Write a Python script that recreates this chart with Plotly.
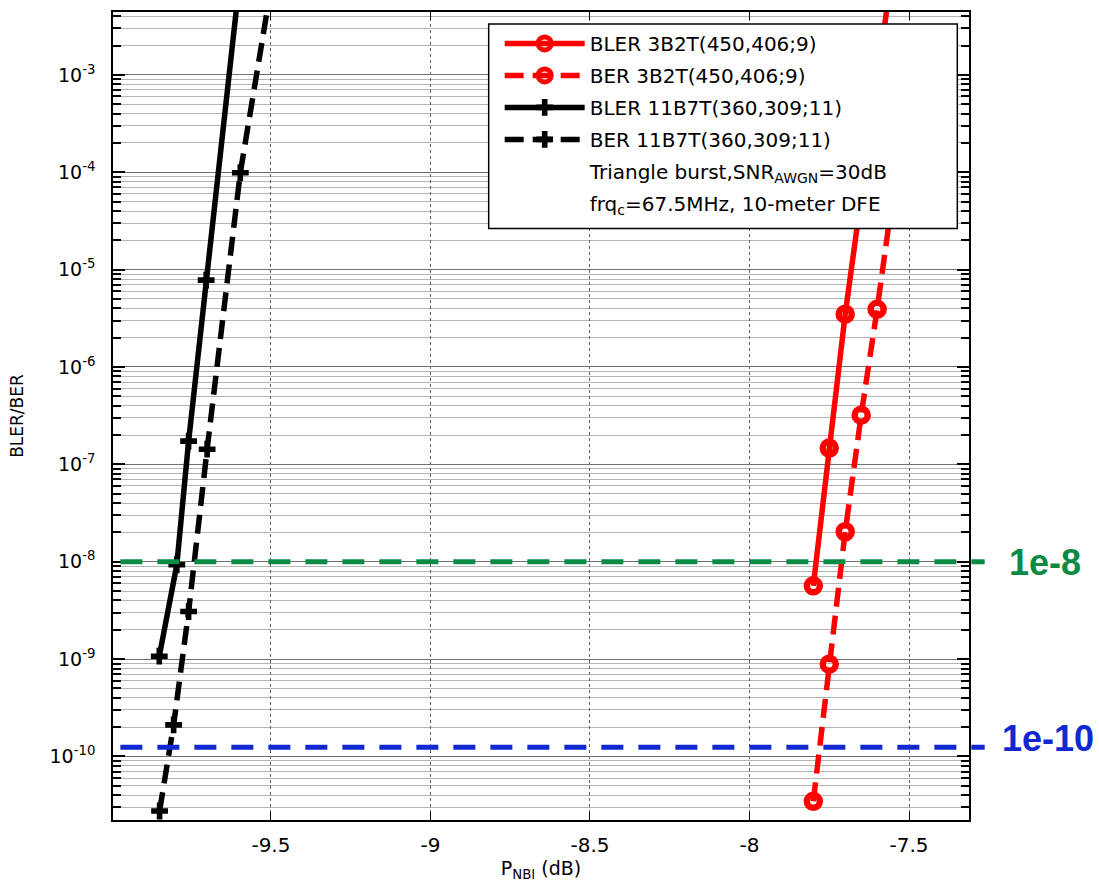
import math
import plotly.graph_objects as go

# ---- data ----
bler_3b2t_x = [-7.80, -7.75, -7.70, -7.65, -7.60, -7.55]
bler_3b2t_y = [5.65e-9, 1.47e-7, 3.49e-6, 5.5e-5, 8.8e-4, 1.4e-2]
ber_3b2t_x = [-7.80, -7.75, -7.70, -7.65, -7.60, -7.55]
ber_3b2t_y = [3.46e-11, 8.87e-10, 2.03e-8, 3.2e-7, 3.91e-6, 6.0e-5]
bler_11b7t_x = [-9.85, -9.795, -9.758, -9.703, -9.60]
bler_11b7t_y = [1.07e-9, 9.3e-9, 1.73e-7, 7.8e-6, 8.3e-3]
ber_11b7t_x = [-9.849, -9.805, -9.758, -9.70, -9.596, -9.50]
ber_11b7t_y = [2.75e-11, 2.11e-10, 3.08e-9, 1.43e-7, 9.9e-5, 7.8e-3]

threshold_green = 1e-8
threshold_blue = 1.24e-10
threshold_labels = ["1e-8", "1e-10"]

x_tickvals = [-9.5, -9, -8.5, -8, -7.5]
x_ticktext = ["-9.5", "-9", "-8.5", "-8", "-7.5"]
y_exponents = [-10, -9, -8, -7, -6, -5, -4, -3]

legend_names = ["BLER 3B2T(450,406;9)", "BER 3B2T(450,406;9)",
                "BLER 11B7T(360,309;11)", "BER 11B7T(360,309;11)",
                "Triangle burst,SNR<sub>AWGN</sub>=30dB",
                "frq<sub>c</sub>=67.5MHz, 10-meter DFE"]

FONT = "DejaVu Sans"
RED = "#ff0000"
GREEN = "#0a8a43"
BLUE = "#1028d0"

fig = go.Figure()

def add(xs, ys, name, color, dash, symbol, msize, mline, grp):
    fig.add_trace(go.Scatter(
        x=xs, y=ys, name=name, mode="lines+markers", legendgroup=grp,
        line=dict(color=color, width=5.5, dash=dash),
        marker=dict(symbol=symbol, size=msize, color=color,
                    line=dict(width=mline, color=color)),
    ))

add(bler_3b2t_x, bler_3b2t_y, legend_names[0], RED, "solid", "circle-open", 13, 6.5, "a")
add(ber_3b2t_x, ber_3b2t_y, legend_names[1], RED, "19px,9px", "circle-open", 13, 6.5, "b")
add(bler_11b7t_x, bler_11b7t_y, legend_names[2], "black", "solid", "cross", 14, 0, "c")
add(ber_11b7t_x, ber_11b7t_y, legend_names[3], "black", "19px,9px", "cross", 14, 0, "d")

for nm, g in [(legend_names[4], "e"), (legend_names[5], "f")]:
    fig.add_trace(go.Scatter(x=[None], y=[None], name=nm, mode="lines",
                             legendgroup=g,
                             line=dict(color="rgba(0,0,0,0)", width=0)))

# legend box (white, covers plot like MATLAB legend)
fig.add_shape(type="rect", xref="paper", yref="paper",
              x0=(489 - 113) / 856.7, x1=(958 - 113) / 856.7,
              y0=1 - (228 - 10) / 813.3, y1=1 - (22 - 10) / 813.3,
              fillcolor="white", line=dict(color="black", width=1.5),
              layer="above")

# threshold lines
for yv, col in [(threshold_green, GREEN), (threshold_blue, BLUE)]:
    fig.add_shape(type="line", xref="x domain", yref="y",
                  x0=0.0086, x1=1.0183, y0=yv, y1=yv,
                  line=dict(color=col, width=5, dash="22px,15px"),
                  layer="above")

fig.add_annotation(x=(1008 - 113) / 856.7, xref="paper",
                   y=math.log10(threshold_green) - 0.01, yref="y",
                   text="<b>%s</b>" % threshold_labels[0], showarrow=False,
                   xanchor="left", yanchor="middle",
                   font=dict(family="Liberation Sans", size=36, color=GREEN))
fig.add_annotation(x=(1001 - 113) / 856.7, xref="paper",
                   y=math.log10(threshold_blue) + 0.09, yref="y",
                   text="<b>%s</b>" % threshold_labels[1], showarrow=False,
                   xanchor="left", yanchor="middle",
                   font=dict(family="Liberation Sans", size=36, color=BLUE))

fig.update_layout(
    width=1099, height=886,
    margin=dict(l=113, r=130, t=10, b=63),
    paper_bgcolor="white", plot_bgcolor="white",
    font=dict(family=FONT, color="black"),
    showlegend=True,
    legend=dict(x=(500 - 113) / 856.7, y=1 - (22 - 10) / 813.3,
                xanchor="left", yanchor="top",
                bgcolor="rgba(0,0,0,0)", borderwidth=0,
                font=dict(family=FONT, size=20, color="black"),
                itemwidth=80, tracegroupgap=3),
    xaxis=dict(
        range=[-9.995, -7.312],
        tickmode="array", tickvals=x_tickvals, ticktext=x_ticktext,
        ticks="inside", ticklen=8, tickwidth=1, tickcolor="black",
        showline=True, linecolor="black", linewidth=1.5, mirror="allticks",
        showgrid=True, gridcolor="#606060", griddash="dot", gridwidth=1,
        zeroline=False, ticklabelstandoff=6,
        tickfont=dict(family=FONT, size=20),
        title=dict(text="P<sub>NBI</sub> (dB)", standoff=6,
                   font=dict(family=FONT, size=19)),
    ),
    yaxis=dict(
        type="log", range=[-10.653, -2.354],
        tickmode="array", tickvals=[10.0 ** e for e in y_exponents],
        ticktext=["10<sup>%d</sup>" % e for e in y_exponents],
        ticks="inside", ticklen=12, tickwidth=1.5, tickcolor="black",
        showline=True, linecolor="black", linewidth=1.5, mirror="allticks",
        showgrid=True, gridcolor="#707070", gridwidth=1,
        zeroline=False, ticklabelstandoff=12,
        tickfont=dict(family=FONT, size=19),
        minor=dict(dtick="D1", ticks="inside", ticklen=8, tickcolor="black",
                   showgrid=True, gridcolor="#b4b4b4", gridwidth=1),
        title=dict(text="BLER/BER", standoff=22,
                   font=dict(family=FONT, size=17)),
    ),
)

fig.write_html("out.html")
